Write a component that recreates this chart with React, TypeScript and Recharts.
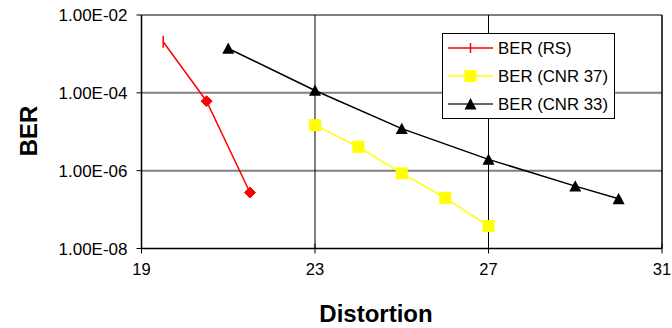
import React from 'react';
import { LineChart, Line, XAxis, YAxis, ReferenceLine, Label } from 'recharts';

const xTicks = [19, 23, 27, 31];
const yTicks = [1e-8, 1e-6, 1e-4, 1e-2];

const rsData = [
  { x: 19.5, y: 2.05e-3 },
  { x: 20.5, y: 6.1e-5 },
  { x: 21.5, y: 2.75e-7 },
];
const cnr37Data = [
  { x: 23, y: 1.48e-5 },
  { x: 24, y: 4.1e-6 },
  { x: 25, y: 8.5e-7 },
  { x: 26, y: 2.0e-7 },
  { x: 27, y: 3.8e-8 },
];
const cnr33Data = [
  { x: 21, y: 1.38e-3 },
  { x: 23, y: 1.15e-4 },
  { x: 25, y: 1.2e-5 },
  { x: 27, y: 1.95e-6 },
  { x: 29, y: 4.0e-7 },
  { x: 30, y: 1.9e-7 },
];

const seriesNames = ['BER (RS)', 'BER (CNR 37)', 'BER (CNR 33)'];
const RED = '#ff0000';
const YELLOW = '#ffff00';
const BLACK = '#000000';
const FONT = '"Liberation Sans", Arial, sans-serif';

const fmtExp = (v: number) => {
  const [m, e] = v.toExponential(2).split('e');
  const n = parseInt(e, 10);
  return `${m}E${n < 0 ? '-' : '+'}${String(Math.abs(n)).padStart(2, '0')}`;
};

const Diamond = (cx: number, cy: number, r: number, color: string, key?: any) => (
  <polygon key={key} points={`${cx},${cy - r} ${cx + r},${cy} ${cx},${cy + r} ${cx - r},${cy}`} fill={color} stroke={color} strokeWidth={1} />
);
const Square = (cx: number, cy: number, r: number, color: string, key?: any) => (
  <rect key={key} x={cx - r} y={cy - r} width={2 * r} height={2 * r} fill={color} />
);
const Triangle = (cx: number, cy: number, r: number, color: string, key?: any) => (
  <polygon key={key} points={`${cx},${cy - r} ${cx + r},${cy + r * 0.9} ${cx - r},${cy + r * 0.9}`} fill={color} />
);
const VBar = (cx: number, cy: number, r: number, color: string, key?: any) => (
  <line key={key} x1={cx} y1={cy - r} x2={cx} y2={cy + r} stroke={color} strokeWidth={1.5} />
);

const rsDot = (props: any) => {
  const { cx, cy, index } = props;
  if (cx == null || cy == null) return <g key={`rs${index}`} />;
  if (index === 0) return VBar(cx, cy, 6, RED, `rs${index}`);
  return Diamond(cx, cy, 5.5, RED, `rs${index}`);
};
const c37Dot = (props: any) => {
  const { cx, cy, index } = props;
  if (cx == null || cy == null) return <g key={`c37${index}`} />;
  return Square(cx, cy, 6, YELLOW, `c37${index}`);
};
const c33Dot = (props: any) => {
  const { cx, cy, index } = props;
  if (cx == null || cy == null) return <g key={`c33${index}`} />;
  return Triangle(cx, cy, 6, BLACK, `c33${index}`);
};

const XTick = (props: any) => {
  const { x, y, payload } = props;
  const axisY = y - 15;
  return (
    <g>
      <line x1={x} x2={x} y1={axisY - 5} y2={axisY + 5} stroke="#000" strokeWidth={1} />
      <text x={x} y={y} dy="0.71em" textAnchor="middle" fontSize={16.5} fontFamily={FONT} fill="#000">
        {payload.value}
      </text>
    </g>
  );
};

const LegendBox = () => {
  const items = [
    { name: seriesNames[0], color: RED, shape: VBar, r: 5 },
    { name: seriesNames[1], color: YELLOW, shape: Square, r: 6 },
    { name: seriesNames[2], color: BLACK, shape: Triangle, r: 6 },
  ];
  return (
    <div
      style={{
        position: 'absolute',
        left: 442,
        top: 33,
        width: 173,
        height: 86,
        border: '1px solid #000',
        background: '#fff',
        boxSizing: 'border-box',
      }}
    >
      <svg width={171} height={84} style={{ display: 'block' }}>
        {items.map((it, i) => {
          const cy = 14 + i * 28;
          const color = it.color;
          return (
            <g key={i}>
              <line x1={5} x2={50} y1={cy} y2={cy} stroke={i === 2 ? '#333' : color} strokeWidth={1.5} />
              {it.shape(27.5, cy, it.r, color)}
              <text x={55} y={cy} dy="0.36em" fontSize={16.8} fontFamily={FONT} fill="#000">
                {it.name}
              </text>
            </g>
          );
        })}
      </svg>
    </div>
  );
};

export default function App() {
  return (
    <div style={{ position: 'absolute', left: 0, top: 0, width: 672, height: 328, background: '#fff' }}>
      <LineChart width={672} height={328} margin={{ top: 15, right: 10, bottom: 49.5, left: 0 }}>
        <XAxis
          type="number"
          dataKey="x"
          domain={[19, 31]}
          ticks={xTicks}
          allowDataOverflow
          height={30}
          tickSize={5}
          tickMargin={10}
          tickLine={false}
          tick={<XTick />}
          axisLine={{ stroke: '#000', strokeWidth: 1.5 }}
        >
          <Label
            content={() => (
              <text x={376} y={322} textAnchor="middle" fontSize={24} fontWeight="bold" fontFamily={FONT} fill="#000">
                Distortion
              </text>
            )}
          />
        </XAxis>
        <YAxis
          type="number"
          scale="log"
          domain={[1e-8, 1e-2]}
          ticks={yTicks}
          allowDataOverflow
          width={141.5}
          tickFormatter={fmtExp}
          tickSize={5}
          tickMargin={9}
          tick={{ fontSize: 17, fontFamily: FONT, fill: '#000' }}
          tickLine={{ stroke: '#000' }}
          axisLine={{ stroke: '#000', strokeWidth: 1.5 }}
        >
          <Label
            content={() => (
              <text
                x={37}
                y={131}
                transform="rotate(-90 37 131)"
                textAnchor="middle"
                fontSize={24}
                fontWeight="bold"
                fontFamily={FONT}
                fill="#000"
              >
                BER
              </text>
            )}
          />
        </YAxis>
        <ReferenceLine y={1e-4} stroke="#808080" strokeWidth={2} />
        <ReferenceLine y={1e-6} stroke="#808080" strokeWidth={2} />
        <ReferenceLine y={1e-2} stroke="#808080" strokeWidth={2} />
        <ReferenceLine x={23} stroke="#000" strokeWidth={1} />
        <ReferenceLine x={27} stroke="#000" strokeWidth={1} />
        <ReferenceLine x={31} stroke="#000" strokeWidth={1.5} />
        <Line data={rsData} dataKey="y" name={seriesNames[0]} stroke={RED} strokeWidth={1.5} dot={rsDot} isAnimationActive={false} />
        <Line data={cnr37Data} dataKey="y" name={seriesNames[1]} stroke={YELLOW} strokeWidth={1.5} dot={c37Dot} isAnimationActive={false} />
        <Line data={cnr33Data} dataKey="y" name={seriesNames[2]} stroke={BLACK} strokeWidth={1.5} dot={c33Dot} isAnimationActive={false} />
      </LineChart>
      <LegendBox />
    </div>
  );
}
